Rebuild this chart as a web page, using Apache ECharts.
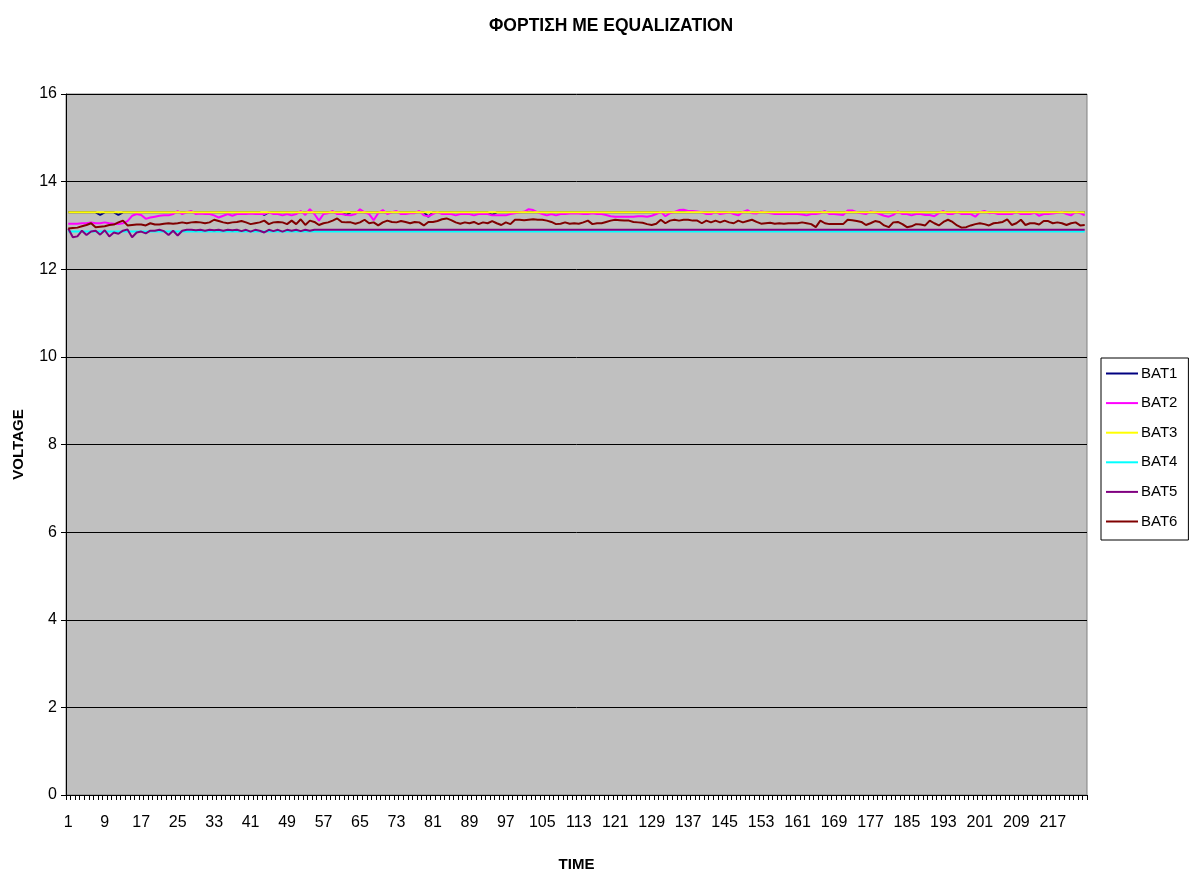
<!DOCTYPE html>
<html>
<head>
<meta charset="utf-8">
<script src="https://cdn.jsdelivr.net/npm/echarts@6/dist/echarts.min.js"></script>
<style>html,body{margin:0;padding:0;background:#fff;}#c{width:1193px;height:877px;}</style>
</head>
<body>
<div id="c"></div>
<script>
const titleText = 'ΦΟΡΤΙΣΗ ΜΕ EQUALIZATION';
const xName = 'TIME';
const yName = 'VOLTAGE';
const seriesNames = ['BAT1','BAT2','BAT3','BAT4','BAT5','BAT6'];
const seriesColors = ['#000080','#FF00FF','#FFFF00','#00FFFF','#800080','#800000'];

const categories = [];
for (let i = 1; i <= 224; i++) categories.push(String(i));

const bat1 = [
13.30,13.30,13.30,13.30,13.30,13.30,13.30,13.24,13.30,13.30,13.30,13.24,13.30,13.30,13.30,13.30,13.30,13.30,13.30,13.30,
13.30,13.30,13.30,13.30,13.30,13.30,13.30,13.30,13.30,13.30,13.30,13.30,13.30,13.30,13.30,13.30,13.30,13.30,13.30,13.30,
13.30,13.30,13.30,13.24,13.30,13.30,13.30,13.30,13.30,13.30,13.30,13.30,13.30,13.30,13.30,13.30,13.30,13.30,13.30,13.30,
13.30,13.24,13.30,13.30,13.30,13.30,13.30,13.30,13.30,13.30,13.30,13.30,13.30,13.30,13.30,13.30,13.30,13.30,13.30,13.20,
13.30,13.30,13.30,13.30,13.30,13.30,13.30,13.30,13.30,13.30,13.30,13.30,13.30,13.24,13.30,13.30,13.30,13.30,13.30,13.30,
13.30,13.30,13.30,13.30,13.30,13.30,13.30,13.30,13.30,13.30,13.30,13.30,13.30,13.30,13.30,13.30,13.30,13.30,13.30,13.30,
13.30,13.30,13.30,13.30,13.30,13.30,13.30,13.30,13.30,13.30,13.30,13.30,13.30,13.30,13.30,13.30,13.30,13.30,13.30,13.30,
13.30,13.30,13.30,13.30,13.30,13.30,13.30,13.30,13.30,13.30,13.30,13.30,13.30,13.30,13.30,13.30,13.30,13.30,13.30,13.30,
13.30,13.30,13.30,13.30,13.30,13.30,13.30,13.30,13.30,13.30,13.30,13.30,13.30,13.30,13.30,13.30,13.30,13.30,13.30,13.30,
13.30,13.30,13.30,13.30,13.30,13.30,13.30,13.30,13.30,13.30,13.30,13.30,13.30,13.30,13.30,13.30,13.30,13.30,13.30,13.30,
13.30,13.30,13.30,13.30,13.30,13.30,13.30,13.30,13.30,13.30,13.30,13.30,13.30,13.30,13.30,13.30,13.30,13.30,13.30,13.30,
13.30,13.30,13.30,13.30
];

const bat2 = [
13.04,13.04,13.04,13.05,13.05,13.07,13.05,13.05,13.07,13.05,13.04,13.03,13.05,13.10,13.22,13.26,13.24,13.15,13.18,13.20,
13.22,13.23,13.23,13.26,13.33,13.26,13.30,13.33,13.26,13.27,13.26,13.26,13.23,13.18,13.22,13.26,13.22,
13.26,13.26,13.26,13.27,13.26,13.26,13.26,13.30,13.26,13.26,13.23,13.26,13.23,13.26,13.33,13.24,13.37,13.26,13.11,13.26,
13.28,13.33,13.26,13.26,13.24,13.23,13.26,13.37,13.30,13.26,13.12,13.28,13.35,13.26,13.30,13.33,13.26,13.26,
13.28,13.28,13.33,13.23,13.21,13.26,13.31,13.26,13.26,13.26,13.23,13.26,13.26,13.26,13.23,13.26,13.26,13.26,13.23,13.23,
13.23,13.23,13.26,13.28,13.30,13.31,13.37,13.35,13.30,13.26,13.23,13.26,13.23,13.26,13.26,13.27,13.28,
13.27,13.26,13.26,13.28,13.26,13.26,13.24,13.21,13.20,13.20,13.20,13.20,13.20,13.21,13.21,13.20,13.22,13.26,13.31,13.21,
13.28,13.31,13.35,13.36,13.33,13.33,13.32,13.30,13.26,13.26,13.31,13.26,13.28,13.30,13.26,13.23,13.31,
13.35,13.28,13.27,13.32,13.30,13.28,13.26,13.26,13.26,13.26,13.26,13.26,13.25,13.23,13.26,13.26,13.28,13.33,13.26,13.26,
13.25,13.24,13.34,13.34,13.30,13.28,13.26,13.32,13.30,13.26,13.22,13.20,13.24,13.32,13.26,13.26,13.23,13.26,
13.26,13.24,13.24,13.21,13.28,13.33,13.26,13.26,13.31,13.26,13.26,13.26,13.20,13.30,13.33,13.28,13.29,13.26,13.26,13.26,
13.26,13.31,13.26,13.26,13.26,13.29,13.22,13.26,13.26,13.27,13.29,13.31,13.26,13.23,13.31,13.28,13.23
];

const bat3 = [
13.30,13.30,13.30,13.30,13.30,13.30,13.30,13.30,13.30,13.30,13.30,13.30,13.30,13.30,13.30,13.30,13.30,13.30,13.30,13.30,
13.30,13.30,13.30,13.30,13.30,13.30,13.30,13.30,13.30,13.30,13.30,13.30,13.30,13.30,13.30,13.30,13.30,13.30,13.30,13.30,
13.30,13.30,13.30,13.30,13.30,13.30,13.30,13.30,13.30,13.30,13.30,13.30,13.30,13.30,13.30,13.30,13.30,13.30,13.30,13.30,
13.30,13.30,13.30,13.30,13.30,13.30,13.30,13.30,13.30,13.30,13.30,13.30,13.30,13.30,13.30,13.30,13.30,13.30,13.30,13.30,
13.30,13.30,13.30,13.30,13.30,13.30,13.30,13.30,13.30,13.30,13.30,13.30,13.30,13.30,13.30,13.30,13.30,13.30,13.30,13.30,
13.30,13.30,13.30,13.30,13.30,13.30,13.30,13.30,13.30,13.30,13.30,13.30,13.30,13.30,13.30,13.30,13.30,13.30,13.30,13.30,
13.30,13.30,13.30,13.30,13.30,13.30,13.30,13.30,13.30,13.30,13.30,13.30,13.30,13.30,13.30,13.30,13.30,13.30,13.30,13.30,
13.30,13.30,13.30,13.30,13.30,13.30,13.30,13.30,13.30,13.30,13.30,13.30,13.30,13.30,13.30,13.30,13.30,13.30,13.30,13.30,
13.30,13.30,13.30,13.30,13.30,13.30,13.30,13.30,13.30,13.30,13.30,13.30,13.30,13.30,13.30,13.30,13.30,13.30,13.30,13.30,
13.30,13.30,13.30,13.30,13.30,13.30,13.30,13.30,13.30,13.30,13.30,13.30,13.30,13.30,13.30,13.30,13.30,13.30,13.30,13.30,
13.30,13.30,13.30,13.30,13.30,13.30,13.30,13.30,13.30,13.30,13.30,13.30,13.30,13.30,13.30,13.30,13.30,13.30,13.30,13.30,
13.30,13.30,13.30,13.30
];

const bat4 = [
12.86,12.86,12.86,12.86,12.86,12.86,12.86,12.86,12.86,12.86,12.86,12.86,12.86,12.86,12.86,12.86,12.86,12.86,12.86,12.86,
12.86,12.86,12.86,12.86,12.86,12.86,12.86,12.86,12.86,12.86,12.86,12.86,12.86,12.86,12.86,12.86,12.86,12.86,12.86,12.86,
12.86,12.86,12.86,12.86,12.86,12.86,12.86,12.86,12.86,12.86,12.86,12.86,12.86,12.86,12.86,12.86,12.86,12.86,12.86,12.86,
12.86,12.86,12.86,12.86,12.86,12.86,12.86,12.86,12.86,12.86,12.86,12.86,12.86,12.86,12.86,12.86,12.86,12.86,12.86,12.86,
12.86,12.86,12.86,12.86,12.86,12.86,12.86,12.86,12.86,12.86,12.86,12.86,12.86,12.86,12.86,12.86,12.86,12.86,12.86,12.86,
12.86,12.86,12.86,12.86,12.86,12.86,12.86,12.86,12.86,12.86,12.86,12.86,12.86,12.86,12.86,12.86,12.86,12.86,12.86,12.86,
12.86,12.86,12.86,12.86,12.86,12.86,12.86,12.86,12.86,12.86,12.86,12.86,12.86,12.86,12.86,12.86,12.86,12.86,12.86,12.86,
12.86,12.86,12.86,12.86,12.86,12.86,12.86,12.86,12.86,12.86,12.86,12.86,12.86,12.86,12.86,12.86,12.86,12.86,12.86,12.86,
12.86,12.86,12.86,12.86,12.86,12.86,12.86,12.86,12.86,12.86,12.86,12.86,12.86,12.86,12.86,12.86,12.86,12.86,12.86,12.86,
12.86,12.86,12.86,12.86,12.86,12.86,12.86,12.86,12.86,12.86,12.86,12.86,12.86,12.86,12.86,12.86,12.86,12.86,12.86,12.86,
12.86,12.86,12.86,12.86,12.86,12.86,12.86,12.86,12.86,12.86,12.86,12.86,12.86,12.86,12.86,12.86,12.86,12.86,12.86,12.86,
12.86,12.86,12.86,12.86
];

const bat5 = [
12.93,12.73,12.75,12.88,12.78,12.86,12.88,12.79,12.89,12.75,12.84,12.81,12.88,12.91,12.73,12.84,12.86,12.82,12.88,12.88,
12.90,12.87,12.78,12.88,12.77,12.88,12.90,12.90,12.89,12.90,12.88,12.90,12.89,12.90,12.88,12.90,12.89,12.90,12.87,12.90,
12.86,12.90,12.88,12.84,12.90,12.87,12.90,12.86,12.90,12.88,12.90,12.87,12.90,12.88,12.90,12.90,12.90,12.90,12.90,12.90,
12.90,12.90,12.90,12.90,12.90,12.90,12.90,12.90,12.90,12.90,12.90,12.90,12.90,12.90,12.90,12.90,12.90,12.90,12.90,12.90,
12.90,12.90,12.90,12.90,12.90,12.90,12.90,12.90,12.90,12.90,12.90,12.90,12.90,12.90,12.90,12.90,12.90,12.90,12.90,12.90,
12.90,12.90,12.90,12.90,12.90,12.90,12.90,12.90,12.90,12.90,12.90,12.90,12.90,12.90,12.90,12.90,12.90,12.90,12.90,12.90,
12.90,12.90,12.90,12.90,12.90,12.90,12.90,12.90,12.90,12.90,12.90,12.90,12.90,12.90,12.90,12.90,12.90,12.90,12.90,12.90,
12.90,12.90,12.90,12.90,12.90,12.90,12.90,12.90,12.90,12.90,12.90,12.90,12.90,12.90,12.90,12.90,12.90,12.90,12.90,12.90,
12.90,12.90,12.90,12.90,12.90,12.90,12.90,12.90,12.90,12.90,12.90,12.90,12.90,12.90,12.90,12.90,12.90,12.90,12.90,12.90,
12.90,12.90,12.90,12.90,12.90,12.90,12.90,12.90,12.90,12.90,12.90,12.90,12.90,12.90,12.90,12.90,12.90,12.90,12.90,12.90,
12.90,12.90,12.90,12.90,12.90,12.90,12.90,12.90,12.90,12.90,12.90,12.90,12.90,12.90,12.90,12.90,12.90,12.90,12.90,12.90,
12.90,12.90,12.90,12.90
];

const bat6 = [
12.93,12.94,12.95,12.98,13.01,13.05,12.96,12.97,12.98,13.01,13.02,13.07,13.11,13.00,13.01,13.02,13.02,13.00,13.05,13.02,
13.02,13.04,13.05,13.04,13.05,13.07,13.05,13.07,13.08,13.07,13.05,13.07,13.13,13.10,13.07,13.05,13.07,
13.08,13.10,13.07,13.03,13.05,13.07,13.11,13.03,13.07,13.08,13.07,13.03,13.11,13.03,13.14,13.01,13.11,13.08,13.01,13.05,
13.07,13.11,13.16,13.08,13.07,13.07,13.04,13.07,13.13,13.05,13.07,13.00,13.07,13.11,13.08,13.07,13.10,13.08,
13.05,13.08,13.07,13.00,13.08,13.08,13.10,13.14,13.16,13.12,13.07,13.04,13.07,13.05,13.08,13.03,13.07,13.05,13.10,13.05,
13.01,13.07,13.03,13.13,13.13,13.12,13.13,13.14,13.13,13.13,13.11,13.08,13.03,13.04,13.07,13.04,13.05,
13.04,13.07,13.11,13.03,13.05,13.05,13.08,13.11,13.13,13.12,13.11,13.11,13.08,13.07,13.06,13.03,13.01,13.04,13.13,13.05,
13.11,13.13,13.11,13.13,13.13,13.11,13.11,13.05,13.11,13.07,13.11,13.07,13.11,13.07,13.05,13.11,13.07,
13.10,13.13,13.08,13.04,13.05,13.06,13.04,13.05,13.04,13.05,13.05,13.05,13.07,13.05,13.03,12.96,13.11,13.05,13.03,13.03,
13.03,13.03,13.13,13.12,13.10,13.08,13.01,13.05,13.10,13.08,13.00,12.96,13.07,13.08,13.03,12.96,12.98,13.03,
13.02,13.00,13.11,13.05,13.00,13.08,13.13,13.08,13.00,12.95,12.96,13.00,13.03,13.05,13.03,13.00,13.05,13.06,13.08,13.14,
13.01,13.05,13.13,13.01,13.05,13.05,13.02,13.10,13.10,13.05,13.07,13.05,13.01,13.05,13.07,13.00,13.01
];

const yTicks = { min: 0, max: 16, interval: 2 };
const seriesData = [bat1, bat2, bat3, bat4, bat5, bat6];

const FONT = 'Liberation Sans, Arial, sans-serif';
const chart = echarts.init(document.getElementById('c'), null, { renderer: 'canvas' });
chart.setOption({
  animation: false,
  backgroundColor: '#ffffff',
  title: {
    text: titleText, left: 484, top: 12,
    textStyle: { fontFamily: FONT, fontSize: 17.5, fontWeight: 'bold', color: '#000' }
  },
  legend: {
    orient: 'vertical', left: 1101, top: 358,
    data: seriesNames,
    icon: 'rect', itemWidth: 32, itemHeight: 2, itemGap: 14.6,
    backgroundColor: '#ffffff', borderColor: '#000', borderWidth: 1,
    padding: [8, 11, 11, 5],
    textStyle: { fontFamily: FONT, fontSize: 15, color: '#000', padding: [0, 0, 0, -2] }
  },
  grid: {
    left: 66, right: 106, top: 94, bottom: 77, show: true,
    backgroundColor: '#C0C0C0', borderColor: '#808080', borderWidth: 1
  },
  xAxis: {
    type: 'category', data: categories, boundaryGap: true,
    name: xName, nameLocation: 'middle', nameGap: 62,
    nameTextStyle: { fontFamily: FONT, fontSize: 15, fontWeight: 'bold', color: '#000' },
    axisLine: { lineStyle: { color: '#000', width: 1 } },
    axisTick: { show: true, interval: 0, length: 5, lineStyle: { color: '#000' } },
    axisLabel: { interval: 7, margin: 20, fontFamily: FONT, fontSize: 16, color: '#000' },
    splitLine: { show: false }
  },
  yAxis: {
    type: 'value', min: yTicks.min, max: yTicks.max, interval: yTicks.interval,
    name: yName, nameLocation: 'middle', nameGap: 40, nameRotate: 90,
    nameTextStyle: { fontFamily: FONT, fontSize: 15, fontWeight: 'bold', color: '#000' },
    axisLine: { show: true, lineStyle: { color: '#000', width: 1 } },
    axisTick: { show: true, length: 5, lineStyle: { color: '#000' } },
    axisLabel: { margin: 9, fontFamily: FONT, fontSize: 16, color: '#000' },
    splitLine: { show: true, lineStyle: { color: '#000', width: 1 } }
  },
  series: seriesNames.map((n, i) => ({
    name: n, type: 'line', data: seriesData[i],
    showSymbol: false, symbol: 'none',
    lineStyle: { color: seriesColors[i], width: 2 },
    itemStyle: { color: seriesColors[i] },
    z: 2 + i
  }))
});
</script>
</body>
</html>
